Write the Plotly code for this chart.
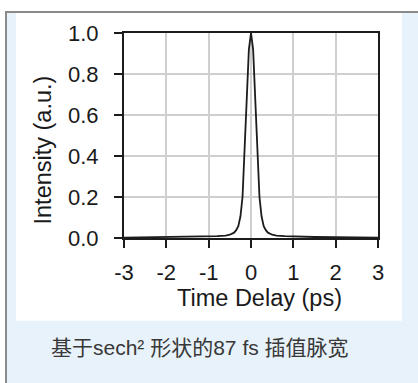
import plotly.graph_objects as go

# Data
time_ps = [-3.0, -2.5, -2.0, -1.5, -1.0, -0.8, -0.6, -0.5, -0.4, -0.35, -0.3, -0.25, -0.2,
           -0.15, -0.1, -0.05, 0.0, 0.05, 0.1, 0.15, 0.2, 0.25, 0.3, 0.35, 0.4, 0.5, 0.6,
           0.8, 1.0, 1.5, 2.0, 2.5, 3.0]
intensity = [0.002, 0.003, 0.004, 0.005, 0.007, 0.009, 0.012, 0.016, 0.026, 0.038, 0.058,
             0.105, 0.2, 0.45, 0.68, 0.92, 1.0, 0.92, 0.68, 0.45, 0.2, 0.105, 0.058, 0.038,
             0.026, 0.016, 0.012, 0.009, 0.007, 0.005, 0.004, 0.003, 0.002]
x_ticks = [-3, -2, -1, 0, 1, 2, 3]
x_tick_text = ["-3", "-2", "-1", "0", "1", "2", "3"]
y_ticks = [0.0, 0.2, 0.4, 0.6, 0.8, 1.0]
y_tick_text = ["0.0", "0.2", "0.4", "0.6", "0.8", "1.0"]
x_title = "Time Delay (ps)"
y_title = "Intensity (a.u.)"
caption = "基于sech² 形状的87 fs 插值脉宽"

W, H = 418, 383
L, R, T, B = 124, 378, 33, 238  # plot area in px


def px(xp):
    return (xp - L) / (R - L)


def py(yp):
    return (B - yp) / (B - T)


fig = go.Figure()
fig.add_trace(go.Scatter(x=time_ps, y=intensity, mode="lines",
                         line=dict(color="#1c1c1c", width=1.8), showlegend=False))

shapes = [
    dict(type="rect", xref="paper", yref="paper", x0=px(5), x1=px(430), y0=py(395), y1=py(11),
         fillcolor="#e8f2fa", line=dict(width=0), layer="below"),
    dict(type="rect", xref="paper", yref="paper", x0=px(16), x1=px(402), y0=py(320.7), y1=py(13),
         fillcolor="#ffffff", line=dict(width=0), layer="below"),
    dict(type="rect", xref="paper", yref="paper", x0=px(5), x1=px(7), y0=py(395), y1=py(11),
         fillcolor="#8a8a8a", line=dict(width=0), layer="below"),
    dict(type="rect", xref="paper", yref="paper", x0=px(5), x1=px(430), y0=py(13), y1=py(11),
         fillcolor="#8a8a8a", line=dict(width=0), layer="below"),
]

font_main = "Liberation Sans, Arial, sans-serif"
annotations = [
    dict(text=x_title, xref="paper", yref="paper", x=px(259.5), y=py(298), showarrow=False,
         xanchor="center", yanchor="middle", font=dict(family=font_main, size=23.5, color="#1a1a1a")),
    dict(text=y_title, xref="paper", yref="paper", x=px(42), y=py(150.5), showarrow=False,
         textangle=-90, xanchor="center", yanchor="middle",
         font=dict(family=font_main, size=23.5, color="#1a1a1a")),
    dict(text=caption, xref="paper", yref="paper", x=px(49), y=py(347), showarrow=False,
         xanchor="left", yanchor="middle",
         font=dict(family="Liberation Sans, Noto Sans CJK SC, sans-serif", size=21, color="#383838")),
]

fig.update_layout(
    width=W, height=H,
    margin=dict(l=L, r=W - R, t=T, b=H - B, pad=0),
    paper_bgcolor="#ffffff",
    plot_bgcolor="rgba(0,0,0,0)",
    shapes=shapes,
    annotations=annotations,
    showlegend=False,
)
fig.update_xaxes(range=[-3, 3], tickvals=x_ticks, ticktext=x_tick_text, ticks="outside", ticklen=8,
                 tickwidth=2, tickcolor="#1c1c1c", showline=True, linecolor="#1c1c1c", linewidth=2,
                 mirror=True, showgrid=True, gridcolor="#cfcfcf", gridwidth=1.5, zeroline=False,
                 tickfont=dict(family=font_main, size=22, color="#1a1a1a"), ticklabelstandoff=6)
fig.update_yaxes(range=[0, 1], tickvals=y_ticks, ticktext=y_tick_text, ticks="outside", ticklen=8,
                 tickwidth=2, tickcolor="#1c1c1c", showline=True, linecolor="#1c1c1c", linewidth=2,
                 mirror=True, showgrid=True, gridcolor="#cfcfcf", gridwidth=1.5, zeroline=False,
                 tickfont=dict(family=font_main, size=22, color="#1a1a1a"), ticklabelstandoff=11)

fig.write_html("out.html", config={"displayModeBar": False},
               post_script="document.body.style.margin='0';")
